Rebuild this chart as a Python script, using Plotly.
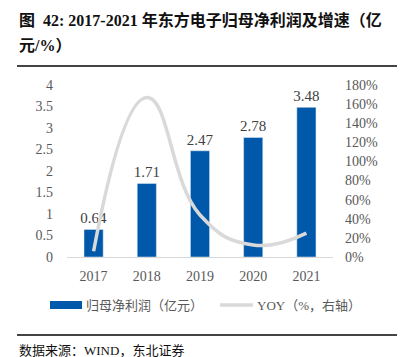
import plotly.graph_objects as go

years = ["2017", "2018", "2019", "2020", "2021"]
profit = [0.64, 1.71, 2.47, 2.78, 3.48]
yoy = [6, 167, 44, 12.6, 25]

OFF = 8  # page body margin
W, H = 405 - OFF, 357 - OFF
L, R, T, B = 67 - OFF, 72, 85 - OFF, 100
PW, PH = W - L - R, H - T - B

def px(x):
    return (x - OFF - L) / PW

def py(y):
    return (H - B - (y - OFF)) / PH

serif = "Liberation Serif, 'Times New Roman', 'Noto Sans CJK SC', serif"
blue = "#0058ab"
grey_line = "#d9d9d9"
rule = "#444444"

fig = go.Figure()
fig.add_trace(go.Bar(
    x=years, y=profit, marker_color=blue, width=0.36,
    text=[f"{v:.2f}" for v in profit], textposition="outside", constraintext="none",
    textfont=dict(family=serif, size=15, color="#404040"),
    cliponaxis=False, name="归母净利润（亿元）", showlegend=False,
))
fig.add_trace(go.Scatter(
    x=years, y=yoy, yaxis="y2", mode="lines",
    line=dict(color=grey_line, width=3.5, shape="spline", smoothing=1.3),
    name="YOY（%，右轴）", showlegend=False,
))

shapes = [
    dict(type="rect", xref="paper", yref="paper", x0=px(17), x1=px(398), y0=py(67), y1=py(65),
         fillcolor=rule, line=dict(width=0), layer="above"),
    dict(type="rect", xref="paper", yref="paper", x0=px(17), x1=px(398), y0=py(336), y1=py(334),
         fillcolor=rule, line=dict(width=0), layer="above"),
    dict(type="rect", xref="paper", yref="paper", x0=px(50), x1=px(82), y0=py(309), y1=py(301),
         fillcolor=blue, line=dict(width=0)),
    dict(type="rect", xref="paper", yref="paper", x0=px(220), x1=px(253), y0=py(306.7), y1=py(303.3),
         fillcolor=grey_line, line=dict(width=0)),
]

ann = [
    dict(text="<b>图  42: 2017-2021 年东方电子归母净利润及增速（亿</b>", x=px(17), y=py(20),
         xref="paper", yref="paper", xanchor="left", yanchor="middle", showarrow=False,
         font=dict(family=serif, size=16, color="#111111")),
    dict(text="<b>元/%）</b>", x=px(17), y=py(45),
         xref="paper", yref="paper", xanchor="left", yanchor="middle", showarrow=False,
         font=dict(family=serif, size=16, color="#111111")),
    dict(text="归母净利润（亿元）", x=px(84), y=py(305),
         xref="paper", yref="paper", xanchor="left", yanchor="middle", showarrow=False,
         font=dict(family=serif, size=13, color="#595959")),
    dict(text="YOY（%，右轴）", x=px(255), y=py(305),
         xref="paper", yref="paper", xanchor="left", yanchor="middle", showarrow=False,
         font=dict(family=serif, size=13, color="#595959")),
    dict(text="数据来源：WIND，东北证券", x=px(17), y=py(350),
         xref="paper", yref="paper", xanchor="left", yanchor="middle", showarrow=False,
         font=dict(family=serif, size=13, color="#111111")),
]

fig.update_layout(
    width=W, height=H, margin=dict(l=L, r=R, t=T, b=B),
    paper_bgcolor="white", plot_bgcolor="white",
    shapes=shapes, annotations=ann,
    xaxis=dict(showgrid=False, showline=True, linecolor="#d9d9d9", linewidth=1,
               ticks="", tickfont=dict(family=serif, size=14, color="#595959"),
               ticklabelstandoff=6),
    yaxis=dict(range=[0, 4], dtick=0.5, showgrid=False, zeroline=False, showline=False,
               tickfont=dict(family=serif, size=14, color="#595959"), ticklabelstandoff=13),
    yaxis2=dict(range=[0, 180], dtick=20, overlaying="y", side="right", showgrid=False,
                zeroline=False, showline=False, ticksuffix="%",
                tickfont=dict(family=serif, size=14, color="#595959"), ticklabelstandoff=11),
)

fig.write_html("out.html")
